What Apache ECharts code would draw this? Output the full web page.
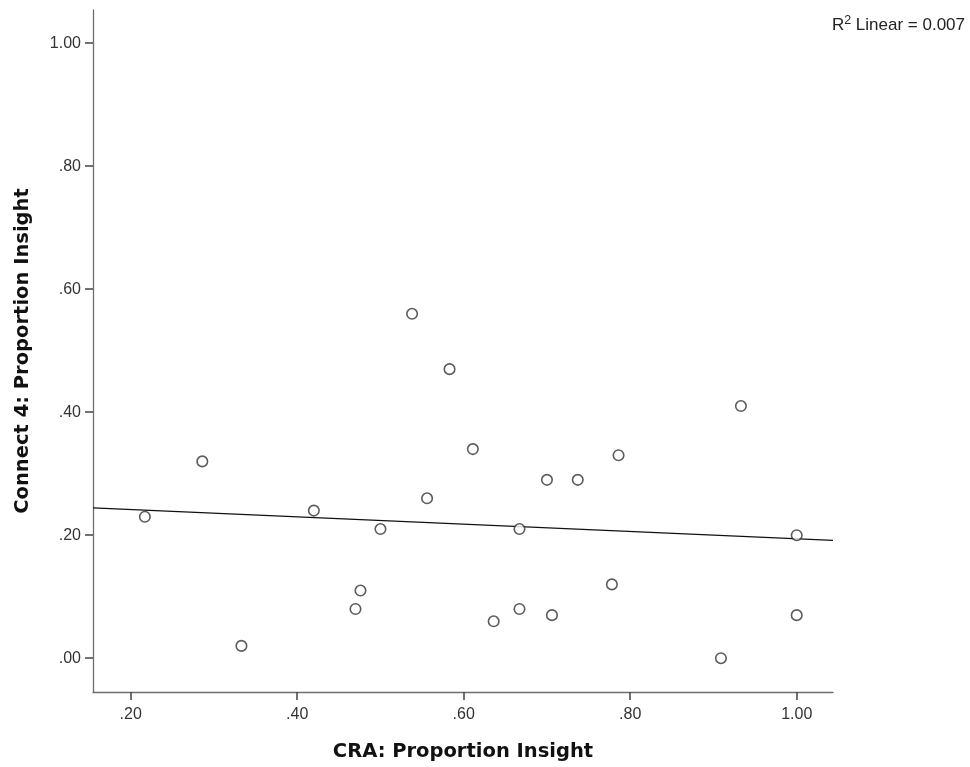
<!DOCTYPE html>
<html>
<head>
<meta charset="utf-8">
<script src="https://cdn.jsdelivr.net/npm/echarts@6/dist/echarts.min.js"></script>
<style>
html,body{margin:0;padding:0;background:#fff;}
#chart{width:970px;height:767px;}
</style>
</head>
<body>
<div id="chart"></div>
<script>
// Data
var craInsight = [0.217,0.286,0.333,0.420,0.470,0.476,0.500,0.538,0.556,0.583,0.611,0.636,0.667,0.667,0.700,0.706,0.737,0.778,0.786,0.909,0.933,1.000,1.000];
var connect4Insight = [0.23,0.32,0.02,0.24,0.08,0.11,0.21,0.56,0.26,0.47,0.34,0.06,0.08,0.21,0.29,0.07,0.29,0.12,0.33,0.00,0.41,0.20,0.07];
var xTicks = [0.2,0.4,0.6,0.8,1.0];
var yTicks = [0,0.2,0.4,0.6,0.8,1.0];
var xRange = [0.1547,1.0436];
var yRange = [-0.055,1.054];
var xTitle = 'CRA: Proportion Insight';
var yTitle = 'Connect 4: Proportion Insight';
var rSquaredText = '0.007';

var points = craInsight.map(function(x,i){return [x, connect4Insight[i]];});

// least-squares fit line
var n = craInsight.length, mx = 0, my = 0;
for (var i=0;i<n;i++){mx+=craInsight[i];my+=connect4Insight[i];}
mx/=n; my/=n;
var sxy=0, sxx=0;
for (var i=0;i<n;i++){sxy+=(craInsight[i]-mx)*(connect4Insight[i]-my); sxx+=(craInsight[i]-mx)*(craInsight[i]-mx);}
var slope = sxy/sxx, intercept = my - slope*mx;
var fitLine = [[xRange[0], intercept+slope*xRange[0]],[xRange[1], intercept+slope*xRange[1]]];

function fmt(v){ var s = (Math.round(v*100)/100).toFixed(2); return s.replace(/^0\./,'.'); }

var chart = echarts.init(document.getElementById('chart'), null, {renderer:'canvas'});
var labelFont = 'Liberation Sans, Arial, sans-serif';
var titleFont = 'DejaVu Sans, Verdana, sans-serif';
chart.setOption({
  animation:false,
  backgroundColor:'#ffffff',
  grid:{left:93,right:137,top:10,bottom:73,containLabel:false},
  xAxis:{
    type:'value', min:xRange[0], max:xRange[1],
    name:xTitle, nameLocation:'middle', nameGap:50,
    nameTextStyle:{fontFamily:titleFont,fontWeight:'bold',fontSize:19.5,color:'#111'},
    splitLine:{show:false},
    axisLine:{show:true,onZero:false,lineStyle:{color:'#6e6e6e',width:1.3}},
    axisTick:{show:true,length:8,inside:false,customValues:xTicks,lineStyle:{color:'#444',width:1.5}},
    axisLabel:{customValues:xTicks,formatter:fmt,margin:15,fontFamily:labelFont,fontSize:16,color:'#333'}
  },
  yAxis:{
    type:'value', min:yRange[0], max:yRange[1],
    name:yTitle, nameLocation:'middle', nameGap:60, nameRotate:90,
    nameTextStyle:{fontFamily:titleFont,fontWeight:'bold',fontSize:19.5,color:'#111'},
    splitLine:{show:false},
    axisLine:{show:true,onZero:false,lineStyle:{color:'#6e6e6e',width:1.3}},
    axisTick:{show:true,length:8,inside:false,customValues:yTicks,lineStyle:{color:'#444',width:1.5}},
    axisLabel:{customValues:yTicks,formatter:fmt,margin:12,padding:[6,0,0,0],fontFamily:labelFont,fontSize:16,color:'#333'}
  },
  graphic:[{
    type:'text', right:5, top:14,
    style:{
      text:'{r|R}{s|2}{r| Linear = '+rSquaredText+'}',
      rich:{
        r:{fontFamily:labelFont,fontSize:17,lineHeight:20,fill:'#222',verticalAlign:'bottom'},
        s:{fontFamily:labelFont,fontSize:12.5,lineHeight:20,fill:'#222',verticalAlign:'top',padding:[0,0,7,0]}
      }
    }
  }],
  series:[
    {
      type:'line', data:fitLine, showSymbol:false, symbol:'none',
      lineStyle:{color:'#111',width:1.2}, silent:true, z:1
    },
    {
      type:'scatter', data:points, symbol:'circle', symbolSize:10.5,
      itemStyle:{color:'#ffffff',borderColor:'#333',borderWidth:1.6}, z:2
    }
  ]
});
</script>
</body>
</html>
